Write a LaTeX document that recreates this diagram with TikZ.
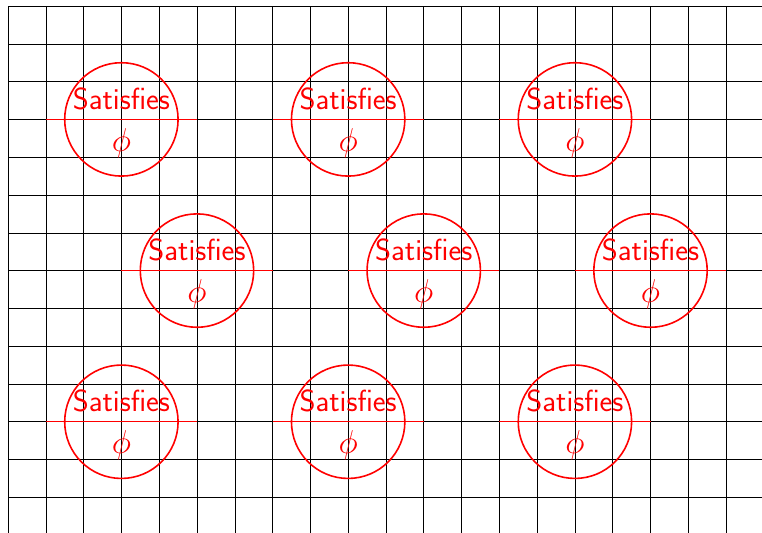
\documentclass[tikz,border=0pt]{standalone}
\usepackage{amsmath, amssymb}
\usepackage{tikz}
\usetikzlibrary{positioning}
\tikzset{
  satcirc/.style={circle, draw=red, very thick, minimum size=3cm, inner sep=0pt, outer sep=0pt},
  sattext/.style={text=red, inner sep=0pt, font=\fontsize{23}{28}\selectfont\sffamily},
  satline/.style={draw=red, line width=1pt}
}

\begin{document}
\begin{tikzpicture}
  \useasboundingbox (-0.212,0.159) rectangle (19.95,-13.94);
  \draw[black] (0,0) grid (19.95,-13.94);
  % top row
  \node[satcirc] (c1) at (3,-3) {};
  \node[sattext, above=0.25cm of c1.center] (t1) {Satisfies};
  \node[sattext, below=0.23cm of c1.center] (p1) {$\phi$};
  \draw[satline] ([xshift=-5mm]c1.west) -- ([xshift=5mm]c1.east);
  \node[satcirc] (c2) at (9,-3) {};
  \node[sattext, above=0.25cm of c2.center] (t2) {Satisfies};
  \node[sattext, below=0.23cm of c2.center] (p2) {$\phi$};
  \draw[satline] ([xshift=-5mm]c2.west) -- ([xshift=5mm]c2.east);
  \node[satcirc] (c3) at (15,-3) {};
  \node[sattext, above=0.25cm of c3.center] (t3) {Satisfies};
  \node[sattext, below=0.23cm of c3.center] (p3) {$\phi$};
  \draw[satline] ([xshift=-5mm]c3.west) -- ([xshift=5mm]c3.east);
  % middle row
  \node[satcirc] (c4) at (5,-7) {};
  \node[sattext, above=0.25cm of c4.center] (t4) {Satisfies};
  \node[sattext, below=0.23cm of c4.center] (p4) {$\phi$};
  \draw[satline] ([xshift=-5mm]c4.west) -- ([xshift=5mm]c4.east);
  \node[satcirc] (c5) at (11,-7) {};
  \node[sattext, above=0.25cm of c5.center] (t5) {Satisfies};
  \node[sattext, below=0.23cm of c5.center] (p5) {$\phi$};
  \draw[satline] ([xshift=-5mm]c5.west) -- ([xshift=5mm]c5.east);
  \node[satcirc] (c6) at (17,-7) {};
  \node[sattext, above=0.25cm of c6.center] (t6) {Satisfies};
  \node[sattext, below=0.23cm of c6.center] (p6) {$\phi$};
  \draw[satline] ([xshift=-5mm]c6.west) -- ([xshift=5mm]c6.east);
  % bottom row
  \node[satcirc] (c7) at (3,-11) {};
  \node[sattext, above=0.25cm of c7.center] (t7) {Satisfies};
  \node[sattext, below=0.23cm of c7.center] (p7) {$\phi$};
  \draw[satline] ([xshift=-5mm]c7.west) -- ([xshift=5mm]c7.east);
  \node[satcirc] (c8) at (9,-11) {};
  \node[sattext, above=0.25cm of c8.center] (t8) {Satisfies};
  \node[sattext, below=0.23cm of c8.center] (p8) {$\phi$};
  \draw[satline] ([xshift=-5mm]c8.west) -- ([xshift=5mm]c8.east);
  \node[satcirc] (c9) at (15,-11) {};
  \node[sattext, above=0.25cm of c9.center] (t9) {Satisfies};
  \node[sattext, below=0.23cm of c9.center] (p9) {$\phi$};
  \draw[satline] ([xshift=-5mm]c9.west) -- ([xshift=5mm]c9.east);
\end{tikzpicture}
\end{document}
